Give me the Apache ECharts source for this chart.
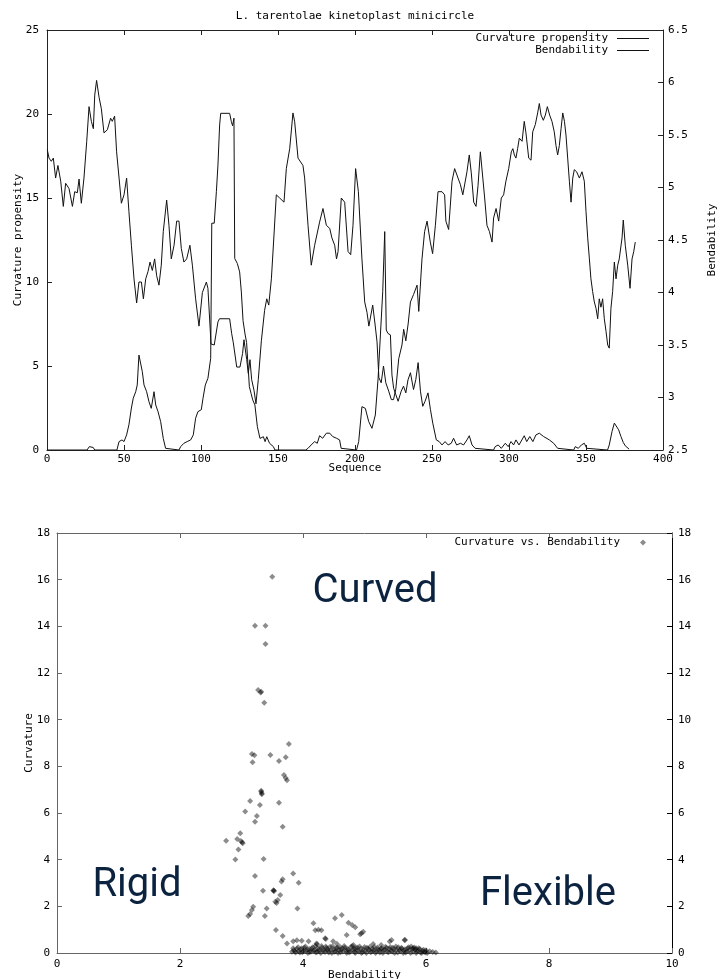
<!DOCTYPE html>
<html>
<head>
<meta charset="utf-8">
<title>L. tarentolae kinetoplast minicircle</title>
<script src="https://cdn.jsdelivr.net/npm/echarts@6/dist/echarts.min.js"></script>
<style>
  html, body { margin: 0; padding: 0; background: #fff; }
  #chart { width: 718px; height: 979px; }
</style>
</head>
<body>
<div id="chart"></div>
<script>
// top chart: [sequence position, value]
const curvature = [
  [0, 0], [26, 0], [27.5, 0.2], [30, 0.15], [31, 0], [45.4, 0], [46.8, 0.5], [48.7, 0.6], [50, 0.5],
  [51.7, 0.9], [53.2, 1.5], [54.8, 2.5], [56, 3.08], [57.6, 3.47], [58.6, 3.87], [59.7, 5.65], [60.8, 5.65],
  [61.9, 4.66], [63, 3.87], [64.7, 3.47], [66.2, 2.88], [67.7, 2.48], [69.5, 3.47], [70.6, 2.68], [72.1, 2.28],
  [73.8, 1.69], [75.5, 0.69], [77, 0.1], [78, 0], [85.7, 0], [86.8, 0.2], [88.9, 0.4], [91, 0.5], [93.3, 0.6],
  [95, 0.9], [96.5, 1.89], [98, 2.28], [100.2, 2.4], [101.3, 3.08], [102.8, 3.87], [104.5, 4.27], [105.6, 5.0],
  [106.3, 5.46], [107, 13.5], [108.6, 13.5], [110, 15.4], [111, 16.96], [112.1, 19.35], [112.8, 20.04],
  [118.6, 20.04], [119.7, 19.55], [120.5, 19.3], [121.4, 19.75], [121.9, 11.4], [123.6, 11.1], [125.1, 10.6],
  [126.2, 9.4], [127.3, 7.7], [128.6, 6.9], [129.6, 6.4], [131.4, 3.77], [132.5, 3.37], [133.6, 2.98],
  [135, 2.68], [136.6, 1.39], [138.3, 0.69], [140.5, 0.79], [141.6, 0.5], [142.7, 0.79], [144.5, 0.4],
  [147, 0.2], [148, 0], [168, 0], [169.5, 0.1], [171.5, 0.3], [173.8, 0.5], [175.5, 0.4], [177, 0.85],
  [179, 0.7], [181.4, 1.0], [183.6, 1.0], [185.5, 0.8], [188, 0.7], [190, 0.6], [191, 0.1], [192, 0],
  [201, 0], [202.4, 0.5], [204.5, 2.58], [206.7, 2.48], [208.9, 1.69], [211, 1.29], [213.2, 2.08], [215, 4.27],
  [216.5, 6.85], [218, 9.42], [219.3, 13.0], [220.3, 7.14], [221.4, 6.94], [223, 6.85], [224, 4.46],
  [225.1, 3.67], [226.5, 3.3], [228, 2.9], [230, 3.5], [231.5, 3.8], [233, 3.4], [234.4, 4.17], [236, 4.6],
  [238, 3.6], [239.5, 4.2], [241, 5.2], [242.5, 3.5], [244, 2.6], [245.5, 2.9], [247.4, 3.4], [249, 2.4],
  [250.5, 1.6], [252.8, 0.6], [254.7, 0.5], [256.5, 0.3], [258.5, 0.5], [260.5, 0.3], [262.5, 0.4], [264, 0.7],
  [266, 0.3], [268.5, 0.4], [270.5, 0.3], [272.7, 0.6], [274.2, 0.85], [276, 0.3], [278, 0.1], [279, 0],
  [290, 0], [291, 0.2], [293, 0.3], [295, 0.1], [297.6, 0.4], [299.5, 0.2], [301.3, 0.5], [303, 0.3],
  [304.5, 0.6], [306.5, 0.3], [309.9, 0.85], [311.5, 0.5], [313.5, 0.8], [315.5, 0.5], [317.5, 0.9],
  [319.7, 1.0], [322.5, 0.8], [326.2, 0.6], [329, 0.4], [331.6, 0.1], [332.5, 0], [342, 0], [343, 0.2],
  [345, 0.1], [347, 0.3], [348.9, 0.4], [350.5, 0.1], [351.5, 0], [364, 0], [365.1, 0.3], [366.9, 1.1],
  [368.4, 1.6], [369.5, 1.5], [371.2, 1.2], [372.7, 0.8], [374.2, 0.45], [375.5, 0.25], [378, 0.05]
];

const bendability = [
  [0.2, 5.36], [1.3, 5.28], [2.8, 5.25], [4.1, 5.28], [5.6, 5.09], [7.1, 5.21], [8.9, 5.06], [10.6, 4.82],
  [12.1, 5.04], [14.3, 4.99], [16.5, 4.82], [18, 4.96], [19.7, 4.95], [20.8, 5.08], [22.3, 4.85], [24, 5.09],
  [25.8, 5.44], [27.3, 5.77], [28.8, 5.63], [30.1, 5.56], [31, 5.88], [32.2, 6.02], [33.8, 5.86], [35.3, 5.75],
  [37, 5.52], [39.2, 5.55], [41.3, 5.66], [42.4, 5.63], [43.9, 5.68], [45.2, 5.34], [46.8, 5.09], [48.3, 4.85],
  [50, 4.93], [51.7, 5.09], [53.2, 4.77], [54.8, 4.45], [56.5, 4.13], [58.2, 3.9], [59.7, 4.1], [61.3, 4.1],
  [62.6, 3.94], [64.1, 4.13], [65.6, 4.2], [66.9, 4.29], [68.4, 4.21], [69.9, 4.32], [71.2, 4.16], [72.7, 4.07],
  [74.2, 4.26], [75.5, 4.58], [77.7, 4.88], [79.2, 4.64], [80.7, 4.32], [82.5, 4.45], [84.2, 4.68], [85.7, 4.68],
  [87.2, 4.42], [88.9, 4.29], [90.7, 4.32], [92.8, 4.45], [94.4, 4.26], [96.5, 3.94], [98.7, 3.68], [100.9, 4.0],
  [103.5, 4.1], [104.5, 4.04], [106.5, 3.51], [108.6, 3.5], [111, 3.72], [112, 3.75], [118.6, 3.75],
  [119.9, 3.61], [121, 3.52], [123.2, 3.29], [125.3, 3.29], [127, 3.42], [127.9, 3.55], [129.7, 3.36],
  [130.7, 3.23], [131.8, 3.36], [132.9, 3.17], [134.4, 3.07], [135.7, 2.94], [137.2, 3.17], [139.2, 3.54],
  [141.3, 3.83], [142.7, 3.94], [144, 3.88], [145.7, 4.13], [147.2, 4.5], [148.9, 4.93], [151.1, 4.9],
  [153.9, 4.86], [155.4, 5.18], [157.6, 5.37], [159.7, 5.71], [160.8, 5.63], [163, 5.28], [166.2, 5.21],
  [167.3, 5.09], [169.5, 4.64], [171.6, 4.26], [173.8, 4.45], [177, 4.67], [179.2, 4.8], [181.4, 4.64],
  [183.6, 4.61], [185, 4.52], [186.8, 4.45], [188, 4.32], [189, 4.39], [191.1, 4.9], [193.3, 4.86],
  [195.5, 4.39], [197.2, 4.36], [198.7, 4.64], [200.4, 5.18], [202.2, 4.96], [204.5, 4.32], [206.3, 3.91],
  [207.8, 3.81], [209, 3.68], [211.5, 3.88], [213, 3.7], [214.3, 3.53], [215.5, 3.19], [217, 3.14],
  [218.5, 3.3], [220, 3.14], [221.9, 3.06], [223.6, 2.98], [225, 2.98], [226.5, 3.08], [228.4, 3.37],
  [230.5, 3.5], [231.6, 3.65], [233, 3.54], [234.5, 3.7], [236, 3.91], [238, 3.98], [240.3, 4.07],
  [241.4, 3.82], [243.5, 4.32], [245.2, 4.58], [246.8, 4.68], [248.9, 4.48], [250.4, 4.37], [252.2, 4.64],
  [253.9, 4.96], [256.5, 4.96], [258.2, 4.93], [259, 4.68], [260.8, 4.6], [263, 5.06], [264.7, 5.18],
  [266.9, 5.09], [268.4, 5.03], [270, 4.93], [272.7, 5.15], [274.2, 5.31], [275.5, 5.14], [277.1, 4.86],
  [278.6, 4.82], [279.9, 5.02], [281.4, 5.34], [283, 5.09], [284.2, 4.9], [285.7, 4.64], [287.3, 4.58],
  [289, 4.48], [290, 4.71], [291.6, 4.8], [293.3, 4.68], [295, 4.9], [296.5, 4.93], [298, 5.06], [299.8, 5.18],
  [301.5, 5.34], [302.5, 5.37], [303.5, 5.31], [304.5, 5.28], [305.6, 5.37], [306.7, 5.47], [308.5, 5.44],
  [309.9, 5.63], [311, 5.52], [312.8, 5.28], [314.3, 5.26], [315.4, 5.53], [317.1, 5.6], [318.6, 5.71],
  [319.7, 5.8], [320.8, 5.69], [322.3, 5.64], [323.6, 5.69], [324.9, 5.77], [326.4, 5.69], [327.9, 5.63],
  [329.4, 5.53], [330.5, 5.4], [331.6, 5.31], [332.7, 5.4], [333.8, 5.56], [334.9, 5.71], [336, 5.63],
  [337, 5.5], [338.1, 5.28], [339.2, 5.06], [340.3, 4.86], [341.4, 5.09], [342.4, 5.17], [343.9, 5.15],
  [345.7, 5.09], [347.4, 5.15], [348.9, 5.06], [350, 4.77], [351.1, 4.52], [352.2, 4.32], [353.2, 4.13],
  [354.3, 4.01], [355.4, 3.91], [356.5, 3.85], [357.6, 3.75], [358.6, 3.94], [359.7, 3.86], [360.8, 3.94],
  [361.9, 3.75], [363, 3.63], [364.1, 3.5], [365.1, 3.47], [366.2, 3.85], [367.3, 4.01], [368.4, 4.29],
  [369.5, 4.13], [370.6, 4.26], [371.6, 4.32], [373.4, 4.52], [374.2, 4.69], [375.5, 4.45], [377.1, 4.26],
  [378.6, 4.04], [379.9, 4.32], [381, 4.39], [382, 4.48]
];

// bottom chart: [bendability, curvature]
const scatterPoints = [
  [3.50, 16.13], [3.22, 14.03], [3.39, 14.03], [3.39, 13.24], [3.27, 11.27], [3.31, 11.16], [3.32, 11.2],
  [3.37, 10.73], [3.77, 8.96], [3.17, 8.53], [3.21, 8.47], [3.18, 8.17], [3.47, 8.49], [3.61, 8.23],
  [3.72, 8.39], [3.69, 7.63], [3.72, 7.5], [3.74, 7.4], [3.32, 6.91], [3.33, 6.85], [3.33, 6.8], [3.32, 6.95],
  [3.14, 6.51], [3.30, 6.34], [3.61, 6.44], [3.06, 6.06], [3.25, 5.87], [3.22, 5.63], [3.67, 5.41],
  [2.98, 5.13], [2.93, 4.89], [2.75, 4.81], [2.99, 4.8], [3.01, 4.75], [3.02, 4.7], [2.95, 4.44], [2.90, 4.01],
  [3.36, 4.03], [3.22, 3.30], [3.84, 3.41], [3.93, 3.01], [3.67, 3.16], [3.65, 3.06], [3.35, 2.67],
  [3.52, 2.67], [3.52, 2.69], [3.53, 2.66], [3.63, 2.49], [3.59, 2.27], [3.57, 2.14], [3.55, 2.2],
  [3.91, 1.91], [3.41, 1.91], [3.19, 1.98], [3.17, 1.84], [3.14, 1.67], [3.11, 1.59], [3.38, 1.59],
  [3.56, 0.99], [3.67, 0.73], [3.74, 0.41], [3.84, 0.5], [3.9, 0.55], [3.98, 0.52], [4.17, 1.27],
  [4.2, 0.97], [4.25, 1.0], [4.3, 0.97], [4.52, 1.49], [4.63, 1.63], [4.74, 1.3], [4.8, 1.2], [4.85, 1.1],
  [4.49, 0.5], [4.55, 0.4], [4.36, 0.63], [4.37, 0.6], [4.22, 0.41], [4.23, 0.38], [4.09, 0.5], [4.71, 0.77],
  [4.82, 0.34], [4.98, 0.91], [4.95, 0.85], [4.93, 0.8], [5.14, 0.39], [5.27, 0.34], [5.41, 0.49],
  [5.44, 0.56], [5.65, 0.56], [5.66, 0.56], [5.79, 0.2], [5.84, 0.2], [6.06, 0.08], [6.11, 0.04], [6.16, 0.02]
];

// the dense band along curvature ~ 0
const lowBand = [
  [3.82, 0.05], [3.85, 0.12], [3.88, 0.02], [3.9, 0.18], [3.93, 0.08], [3.96, 0.15], [3.99, 0.03],
  [4.02, 0.22], [4.05, 0.1], [4.08, 0.0], [4.1, 0.17], [4.13, 0.06], [4.16, 0.25], [4.19, 0.12], [4.21, 0.02],
  [4.24, 0.2], [4.27, 0.09], [4.3, 0.3], [4.33, 0.14], [4.36, 0.04], [4.38, 0.21], [4.41, 0.1], [4.44, 0.27],
  [4.47, 0.0], [4.5, 0.16], [4.53, 0.07], [4.56, 0.24], [4.58, 0.12], [4.61, 0.03], [4.64, 0.19], [4.67, 0.3],
  [4.7, 0.09], [4.72, 0.18], [4.75, 0.02], [4.78, 0.26], [4.81, 0.12], [4.84, 0.05], [4.86, 0.2], [4.89, 0.1],
  [4.92, 0.28], [4.95, 0.0], [4.98, 0.15], [5.01, 0.08], [5.04, 0.22], [5.07, 0.12], [5.1, 0.03], [5.13, 0.18],
  [5.16, 0.26], [5.19, 0.08], [5.22, 0.16], [5.25, 0.02], [5.28, 0.2], [5.31, 0.11], [5.34, 0.27], [5.37, 0.05],
  [5.4, 0.17], [5.43, 0.1], [5.46, 0.22], [5.49, 0.0], [5.52, 0.14], [5.55, 0.25], [5.58, 0.07], [5.61, 0.18],
  [5.64, 0.1], [5.67, 0.02], [5.7, 0.2], [5.73, 0.12], [5.76, 0.28], [5.79, 0.05], [5.82, 0.15], [5.85, 0.08],
  [5.88, 0.2], [5.91, 0.02], [5.94, 0.1], [5.97, 0.05], [6.0, 0.12], [6.02, 0.0]
];

const lowBand2 = [
  [3.84, 0.2], [3.87, 0.08], [3.92, 0.25], [3.95, 0.02], [3.98, 0.2], [4.01, 0.07], [4.04, 0.28], [4.07, 0.15],
  [4.11, 0.04], [4.14, 0.19], [4.17, 0.1], [4.2, 0.3], [4.23, 0.05], [4.26, 0.16], [4.29, 0.0], [4.31, 0.22],
  [4.34, 0.07], [4.37, 0.28], [4.4, 0.16], [4.42, 0.02], [4.45, 0.13], [4.48, 0.29], [4.51, 0.05], [4.54, 0.2],
  [4.57, 0.0], [4.6, 0.27], [4.62, 0.14], [4.65, 0.06], [4.68, 0.22], [4.71, 0.0], [4.74, 0.14], [4.77, 0.06],
  [4.8, 0.3], [4.83, 0.18], [4.85, 0.0], [4.88, 0.24], [4.91, 0.06], [4.94, 0.18], [4.97, 0.04], [5.0, 0.26],
  [5.03, 0.0], [5.06, 0.17], [5.09, 0.27], [5.12, 0.06], [5.15, 0.12], [5.18, 0.0], [5.21, 0.24], [5.24, 0.1],
  [5.27, 0.18], [5.3, 0.0], [5.33, 0.14], [5.36, 0.22], [5.39, 0.03], [5.42, 0.26], [5.45, 0.06], [5.48, 0.16],
  [5.51, 0.28], [5.54, 0.02], [5.57, 0.14], [5.6, 0.22], [5.63, 0.0], [5.66, 0.16], [5.69, 0.07], [5.72, 0.25],
  [5.75, 0.0], [5.78, 0.17], [5.81, 0.24], [5.84, 0.0], [5.87, 0.1], [5.9, 0.17], [5.93, 0.0], [5.96, 0.14],
  [5.99, 0.02]
];

const mono = 'DejaVu Sans Mono';
const ink = '#000';

function makeAxis (opt, lineColor) {
  let color = lineColor || '#222';

  return Object.assign({
    type: 'value',
    axisLine: {show: true, onZero: false, lineStyle: {color: color, width: 1}},
    axisTick: {show: true, inside: true, length: 5, lineStyle: {color: color}},
    axisLabel: {color: ink, fontFamily: mono, fontSize: 11},
    splitLine: {show: false},
    nameLocation: 'middle',
    nameMoveOverlap: false,
    nameTextStyle: {color: ink, fontFamily: mono, fontSize: 11}
  }, opt);
}

function makeLegend (name, right, top, extra) {
  return Object.assign({
    data: [name],
    orient: 'vertical',
    align: 'right',
    right: right,
    top: top,
    padding: 0,
    selectedMode: false,
    icon: 'rect',
    itemWidth: 32,
    itemHeight: 1,
    textStyle: {color: ink, fontFamily: mono, fontSize: 11, padding: [0, 4, 0, 0]}
  }, extra);
}

function label (text, x, y) {
  return {
    type: 'text',
    x: x,
    y: y,
    style: {
      text: text,
      fill: '#0c2340',
      font: '40px Roboto',
      align: 'center',
      verticalAlign: 'middle'
    }
  };
}

const chart = echarts.init(document.getElementById('chart'));

chart.setOption({
  animation: false,
  backgroundColor: '#fff',
  title: {
    text: 'L. tarentolae kinetoplast minicircle',
    left: 355,
    textAlign: 'center',
    top: 11,
    padding: 0,
    textStyle: {color: ink, fontFamily: mono, fontSize: 11, fontWeight: 'normal'}
  },
  legend: [
    makeLegend('Curvature propensity', 69, 33),
    makeLegend('Bendability', 69, 45),
    makeLegend('Curvature vs. Bendability', 72, 537, {
      itemWidth: 6,
      itemHeight: 6,
      icon: 'diamond',
      textStyle: {color: ink, fontFamily: mono, fontSize: 11, padding: [0, 15, 0, 0]}
    })
  ],
  grid: [
    {left: 47, top: 30, width: 616, height: 420, outerBoundsMode: 'none', containLabel: false},
    {left: 57, top: 533, width: 615, height: 420, outerBoundsMode: 'none', containLabel: false}
  ],
  xAxis: [
    makeAxis({gridIndex: 0, min: 0, max: 400, interval: 50, position: 'bottom',
      name: 'Sequence', nameGap: 13, axisLabel: {color: ink, fontFamily: mono, fontSize: 11, margin: 4}}),
    makeAxis({gridIndex: 0, min: 0, max: 400, interval: 50, position: 'top', axisLabel: {show: false}}),
    makeAxis({gridIndex: 1, min: 0, max: 10, interval: 2, position: 'bottom',
      name: 'Bendability', nameGap: 17, axisLabel: {color: ink, fontFamily: mono, fontSize: 11, margin: 6}}, '#666'),
    makeAxis({gridIndex: 1, min: 0, max: 10, interval: 2, position: 'top', axisLabel: {show: false}}, '#666')
  ],
  yAxis: [
    makeAxis({gridIndex: 0, min: 0, max: 25, interval: 5, position: 'left',
      name: 'Curvature propensity', nameGap: 23, nameRotate: 90}),
    makeAxis({gridIndex: 0, min: 2.5, max: 6.5, interval: 0.5, position: 'right',
      name: 'Bendability', nameGap: 44, nameRotate: 90,
      axisLabel: {color: ink, fontFamily: mono, fontSize: 11, margin: 5}}),
    makeAxis({gridIndex: 1, min: 0, max: 18, interval: 2, position: 'left',
      name: 'Curvature', nameGap: 22, nameRotate: 90,
      axisLabel: {color: ink, fontFamily: mono, fontSize: 11, margin: 7}}, '#666'),
    makeAxis({gridIndex: 1, min: 0, max: 18, interval: 2, position: 'right',
      axisLabel: {color: ink, fontFamily: mono, fontSize: 11, margin: 6}}, '#000')
  ],
  series: [
    {
      name: 'Curvature propensity',
      type: 'line',
      xAxisIndex: 0,
      yAxisIndex: 0,
      data: curvature,
      symbol: 'none',
      lineStyle: {color: '#111', width: 1},
      itemStyle: {color: '#111'}
    },
    {
      name: 'Bendability',
      type: 'line',
      xAxisIndex: 0,
      yAxisIndex: 1,
      data: bendability,
      symbol: 'none',
      lineStyle: {color: '#111', width: 1},
      itemStyle: {color: '#111'}
    },
    {
      name: 'Curvature vs. Bendability',
      type: 'scatter',
      xAxisIndex: 2,
      yAxisIndex: 2,
      data: scatterPoints.concat(lowBand, lowBand2),
      symbol: 'diamond',
      symbolSize: 6,
      itemStyle: {color: '#000', opacity: 0.45}
    }
  ],
  graphic: [
    label('Curved', 375, 592),
    label('Rigid', 137, 886),
    label('Flexible', 548, 895)
  ]
});
</script>
</body>
</html>
